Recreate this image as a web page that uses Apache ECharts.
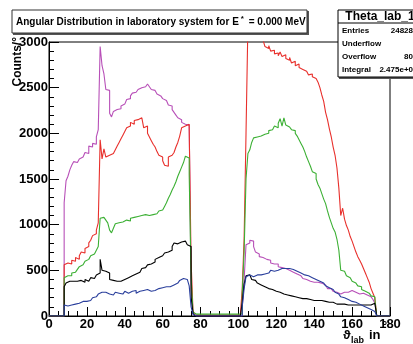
<!DOCTYPE html>
<html><head><meta charset="utf-8">
<script src="https://cdn.jsdelivr.net/npm/echarts@6/dist/echarts.min.js"></script>
<style>html,body{margin:0;padding:0;background:#fff}#c{width:413px;height:344px}</style>
</head><body><div id="c"></div>
<script>
// bin lower edges: 0..179 (1 degree bins)
const binEdges = Array.from({length: 181}, (_, i) => i);
const xTicks = [0,20,40,60,80,100,120,140,160,180];
const yTicks = [0,500,1000,1500,2000,2500,3000];

const magenta = [
0,0,0,0,0,0,0,0,1240,1480,
1530,1600,1650,1690,1680,1690,1720,1740,1760,1790,
1780,1860,1850,1890,1880,1960,2040,2950,2740,2650,
2480,2470,2220,2180,2240,2260,2250,2270,2300,2320,
2330,2370,2380,2410,2440,2450,2470,2480,2500,2490,
2510,2500,2540,2510,2480,2470,2460,2430,2410,2390,
2380,2360,2340,2310,2300,2260,2230,2200,2170,2150,
2120,2100,2080,2090,2080,300,20,0,0,0,
0,0,0,0,0,0,0,0,0,0,
0,0,0,0,0,0,0,0,0,0,
0,0,100,400,780,800,830,820,760,700,
680,650,640,650,620,600,610,580,570,560,
570,540,530,550,520,510,500,490,480,470,
460,450,440,430,410,400,390,380,380,370,
360,370,350,360,350,340,320,300,300,280,
270,260,250,240,250,260,250,260,270,280,
270,260,250,240,230,250,240,230,220,210,
200,180,140,0,0,0,0,0,0,0];

const red = [
0,0,0,0,0,0,0,0,560,580,
600,570,610,600,640,620,660,700,690,740,
760,800,830,880,900,940,1020,1930,1720,1830,
1740,1760,1750,1780,1790,1820,1860,1900,1940,1980,
2020,2060,2080,2120,2100,2140,2150,2130,2170,2160,
2060,2080,2000,1960,1920,1880,1850,1800,1760,1740,
1700,1650,1640,1740,1760,1780,1790,1850,1900,1970,
2060,2080,2070,2100,2060,600,60,10,10,10,
10,10,10,10,10,10,10,10,10,10,
10,10,10,10,10,10,10,10,10,10,
10,20,300,850,2000,3200,3150,3200,3100,3150,
3080,3120,3050,3020,2950,2930,2960,2900,2910,2870,
2880,2850,2890,2840,2860,2820,2800,2830,2770,2790,
2740,2760,2720,2700,2690,2680,2660,2640,2650,2620,
2600,2580,2560,2500,2420,2350,2230,2150,2050,1960,
1850,1760,1620,1400,1100,1180,1060,990,940,870,
820,760,700,650,610,570,520,470,420,370,
300,250,200,0,0,0,0,0,0,0];

const green = [
0,0,0,0,0,0,0,0,420,440,
450,440,470,480,500,510,540,560,580,600,
620,640,660,680,700,720,760,1070,1080,1060,
1050,1020,940,910,960,1010,1020,1000,1030,1040,
1050,1060,1040,1070,1080,1070,1090,1080,1100,1090,
1110,1120,1100,1120,1110,1130,1120,1130,1150,1160,
1180,1200,1240,1290,1330,1380,1420,1470,1530,1580,
1630,1680,1750,1730,1550,420,40,20,20,20,
20,20,20,20,20,20,20,20,20,20,
20,20,20,20,20,20,20,20,20,20,
20,25,250,700,1500,1780,1820,1900,1950,1960,
1940,1970,1960,1990,2010,2000,2030,2040,2060,2080,
2060,2110,2160,2080,2170,2090,2070,2060,2040,2030,
2000,1970,1930,1890,1850,1800,1740,1690,1640,1580,
1560,1500,1440,1400,1340,1280,1230,1150,1080,1020,
960,920,840,720,500,490,470,440,420,400,
380,360,350,330,320,290,270,260,250,240,
220,210,180,0,0,0,0,0,0,0];

const black = [
0,0,0,0,0,0,0,0,320,360,
380,370,380,390,380,370,390,380,370,400,
380,370,420,410,430,450,470,620,500,490,
480,470,400,390,380,380,390,380,390,400,
410,420,430,440,450,460,470,480,490,520,
530,540,560,570,580,590,620,640,650,660,
680,690,700,710,720,760,800,790,800,810,
830,820,820,780,760,210,30,0,0,0,
0,0,0,0,0,0,0,0,0,0,
0,0,0,0,0,0,0,0,0,0,
0,0,150,350,440,450,430,400,390,370,
360,340,330,320,310,300,300,290,280,270,
270,260,250,240,240,230,230,220,220,210,
210,200,200,190,190,190,180,180,180,170,
170,170,160,170,160,160,150,150,140,150,
140,130,140,130,120,130,120,120,130,120,
110,120,110,120,110,120,110,120,130,120,
130,140,150,0,0,0,0,0,0,0];

const blue = [
0,0,0,0,0,0,0,0,120,110,
130,120,140,130,150,140,150,160,170,160,
180,170,190,200,210,220,240,260,270,260,
250,240,260,230,240,260,250,270,240,260,
270,250,260,270,260,280,250,270,260,280,
270,290,280,270,290,280,290,300,290,310,
300,320,310,320,330,340,350,360,380,390,
410,420,400,380,330,100,20,0,0,0,
0,0,0,0,0,0,0,0,0,0,
0,0,0,0,0,0,0,0,0,0,
0,0,100,300,430,450,440,430,440,450,
460,450,470,460,480,470,490,500,490,510,
500,510,520,510,520,510,520,500,510,500,
490,480,470,460,450,450,440,430,420,410,
400,390,380,370,360,350,330,310,300,290,
270,260,240,220,210,200,190,180,170,160,
150,150,140,130,120,110,100,90,80,70,
60,50,40,0,0,0,0,0,0,0];

function hist(vals) {
  const d = vals.map((v, i) => [binEdges[i], v]);
  d.push([binEdges[vals.length], vals[vals.length - 1]]);
  return d;
}
const FONT = '"Liberation Sans", Arial, Helvetica, sans-serif';
const chart = echarts.init(document.getElementById('c'), null, {renderer: 'canvas'});
function s(name, vals, color) {
  return {name, type: 'line', step: 'end', data: hist(vals), showSymbol: false, symbol: 'none',
    lineStyle: {color, width: 1.1}, itemStyle: {color}, clip: true, silent: true, z: 3};
}
chart.setOption({
  animation: false,
  backgroundColor: '#fff',
  grid: {left: 49, right: 23, top: 42, bottom: 28, show: true, borderColor: '#000', borderWidth: 1},
  xAxis: {type: 'value', min: xTicks[0], max: xTicks[xTicks.length-1], interval: 20,
    axisLine: {lineStyle: {color: '#000', width: 1}},
    axisTick: {inside: true, length: 9, lineStyle: {color: '#000'}},
    minorTick: {show: true, splitNumber: 4, length: 5, lineStyle: {color: '#000'}},
    splitLine: {show: false},
    axisLabel: {color: '#000', fontFamily: FONT, fontWeight: 'bold', fontSize: 13, margin: 2,
      formatter: v => String(v)}},
  yAxis: {type: 'value', min: yTicks[0], max: yTicks[yTicks.length-1], interval: 500,
    axisLine: {show: true, lineStyle: {color: '#000', width: 1}},
    axisTick: {show: true, inside: true, length: 10, lineStyle: {color: '#000'}},
    minorTick: {show: true, splitNumber: 5, length: 5, lineStyle: {color: '#000'}},
    splitLine: {show: false},
    axisLabel: {color: '#000', fontFamily: FONT, fontWeight: 'bold', fontSize: 13, margin: 1,
      formatter: v => String(v)}},
  series: [
    s('magenta', magenta, '#b850b8'),
    s('red', red, '#e8302c'),
    s('green', green, '#3cb034'),
    s('black', black, '#000000'),
    s('blue', blue, '#2a3f9c')
  ],
  graphic: [
    {type: 'rect', shape: {x: 13, y: 11, width: 296, height: 24}, style: {fill: '#555'}, z: 10},
    {type: 'rect', shape: {x: 12, y: 10, width: 295, height: 23}, style: {fill: '#fff', stroke: '#333', lineWidth: 1}, z: 11},
    {type: 'text', x: 16, y: 22, z: 12, style: {
      text: 'Angular Distribution in laboratory system for E{s|*} = 0.000 MeV',
      rich: {s: {fontSize: 8, fontWeight: 'bold', fontFamily: FONT, padding: [0, 2, 7, 2]}},
      fontFamily: FONT, fontWeight: 'bold', fontSize: 10, fill: '#000', verticalAlign: 'middle'}},
    {type: 'rect', shape: {x: 339, y: 11, width: 90, height: 68}, style: {fill: '#555'}, z: 10},
    {type: 'rect', shape: {x: 338, y: 10, width: 90, height: 67}, style: {fill: '#fff', stroke: '#000', lineWidth: 1}, z: 11},
    {type: 'line', shape: {x1: 338, y1: 23, x2: 420, y2: 23}, style: {stroke: '#000', lineWidth: 1}, z: 12},
    {type: 'text', x: 380, y: 17, z: 12, style: {text: 'Theta_lab_1', fontFamily: FONT, fontWeight: 'bold', fontSize: 12, fill: '#000', align: 'center', verticalAlign: 'middle'}},
    {type: 'text', x: 342, y: 31, z: 12, style: {text: 'Entries', fontFamily: FONT, fontWeight: 'bold', fontSize: 8, fill: '#000', verticalAlign: 'middle'}},
    {type: 'text', x: 342, y: 44, z: 12, style: {text: 'Underflow', fontFamily: FONT, fontWeight: 'bold', fontSize: 8, fill: '#000', verticalAlign: 'middle'}},
    {type: 'text', x: 342, y: 57, z: 12, style: {text: 'Overflow', fontFamily: FONT, fontWeight: 'bold', fontSize: 8, fill: '#000', verticalAlign: 'middle'}},
    {type: 'text', x: 342, y: 70, z: 12, style: {text: 'Integral', fontFamily: FONT, fontWeight: 'bold', fontSize: 8, fill: '#000', verticalAlign: 'middle'}},
    {type: 'text', x: 413, y: 31, z: 12, style: {text: '24828', fontFamily: FONT, fontWeight: 'bold', fontSize: 8, fill: '#000', align: 'right', verticalAlign: 'middle'}},
    {type: 'text', x: 413, y: 57, z: 12, style: {text: '80', fontFamily: FONT, fontWeight: 'bold', fontSize: 8, fill: '#000', align: 'right', verticalAlign: 'middle'}},
    {type: 'text', x: 413, y: 70, z: 12, style: {text: '2.475e+0', fontFamily: FONT, fontWeight: 'bold', fontSize: 8, fill: '#000', align: 'right', verticalAlign: 'middle'}},
    {type: 'text', x: 18, y: 37, rotation: Math.PI / 2, z: 1, style: {text: 'Counts/°', fontFamily: FONT, fontWeight: 'bold', fontSize: 12, fill: '#000', align: 'right', verticalAlign: 'middle'}},
    {type: 'text', x: 343, y: 335, z: 12, style: {text: 'ϑ', fontFamily: FONT, fontWeight: 'bold', fontSize: 13, fill: '#000', verticalAlign: 'middle'}},
    {type: 'text', x: 351, y: 341, z: 12, style: {text: 'lab', fontFamily: FONT, fontWeight: 'bold', fontSize: 9, fill: '#000', verticalAlign: 'middle'}},
    {type: 'text', x: 369, y: 335, z: 12, style: {text: 'in', fontFamily: FONT, fontWeight: 'bold', fontSize: 13, fill: '#000', verticalAlign: 'middle'}},
    {type: 'text', x: 382, y: 326, z: 12, style: {text: '°', fontFamily: FONT, fontWeight: 'bold', fontSize: 13, fill: '#000', verticalAlign: 'middle'}}
  ]
});
</script></body></html>
